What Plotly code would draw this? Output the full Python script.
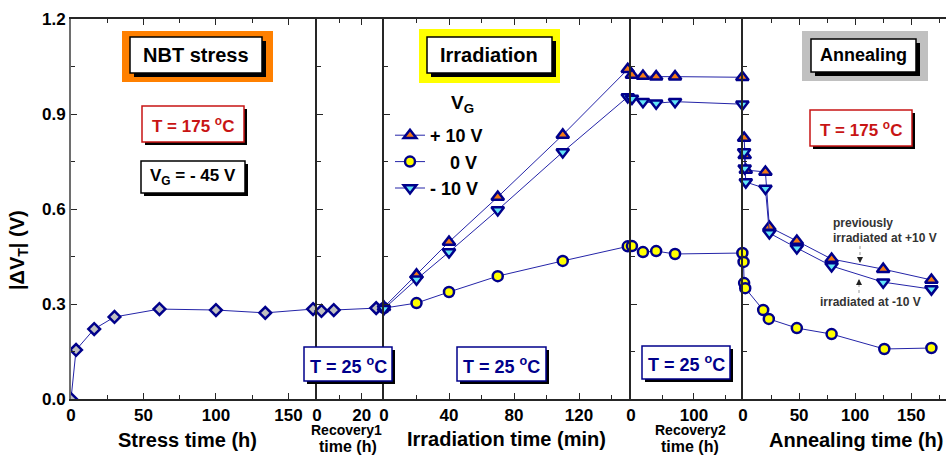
import plotly.graph_objects as go

# ---------------- data ----------------
stress_t = [0, 3.5, 16, 30, 61, 100, 134, 167]
stress_dvt = [0.0, 0.155, 0.221, 0.259, 0.284, 0.281, 0.272, 0.284]

rec1_t = [2, 7.5, 26.5]
rec1_dvt = [0.278, 0.281, 0.287]

irr_t = [0, 20, 40, 70, 110, 150]
irr_p10 = [0.290, 0.392, 0.496, 0.638, 0.834, 1.041]
irr_0 = [0.287, 0.303, 0.338, 0.388, 0.436, 0.482]
irr_m10 = [0.285, 0.378, 0.464, 0.597, 0.780, 0.954]

rec2_t = [1.5, 19, 40, 70, 177]
rec2_p10 = [1.023, 1.020, 1.018, 1.018, 1.016]
rec2_0 = [0.483, 0.464, 0.467, 0.458, 0.461]
rec2_m10 = [0.949, 0.939, 0.934, 0.939, 0.931]

ann_t_tri = [1, 1.5, 2.5, 20, 23.5, 48, 79, 125, 168]
ann_p10 = [0.824, 0.770, 0.723, 0.717, 0.543, 0.499, 0.442, 0.410, 0.376]
ann_m10 = [0.780, 0.729, 0.685, 0.665, 0.524, 0.477, 0.420, 0.369, 0.347]
ann_t_0 = [0.5, 1, 2, 18, 23, 48, 79, 126, 168]
ann_0 = [0.433, 0.366, 0.350, 0.281, 0.253, 0.224, 0.205, 0.158, 0.161]

y_ticks = [0.0, 0.3, 0.6, 0.9, 1.2]
y_minor = [0.15, 0.45, 0.75, 1.05]
stress_ticks = [0, 50, 100, 150]
rec1_ticks = [0, 20]
irr_ticks = [0, 40, 80, 120]
rec2_ticks = [0, 100]
ann_ticks = [0, 50, 100, 150]

legend_names = ["+ 10 V", "\u00a0\u00a0\u00a0\u00a00 V", "- 10 V"]

# ---------------- styling ----------------
FONT = "Liberation Sans, Arial, Helvetica, sans-serif"
NAVY = "#00008b"
LINE = "#2424a8"
DARK_RED = "#c81414"
AX = "#262626"
W, H = 948, 457
L, R, T, B = 71, 946, 19, 399


def px(x):
    return (x - L) / (R - L)


def py(y):
    return (B - y) / (B - T)


fig = go.Figure()

mk_diamond = dict(symbol="diamond", size=9, color="#c0c0c0", line=dict(color=NAVY, width=2.5))
mk_up = dict(symbol="triangle-up", size=11, color="#f47a14", line=dict(color=NAVY, width=2.5))
mk_circ = dict(symbol="circle", size=10, color="#ffff00", line=dict(color=NAVY, width=2.5))
mk_down = dict(symbol="triangle-down", size=11, color="#62e6f6", line=dict(color=NAVY, width=2.5))


def add(xs, ys, k, marker, name, group, show=False, clip=False):
    ax = "" if k == 1 else str(k)
    fig.add_trace(go.Scatter(
        x=xs, y=ys, mode="lines+markers", name=name, legendgroup=group,
        showlegend=show, marker=marker, line=dict(color=LINE, width=1),
        xaxis="x" + ax, yaxis="y" + ax, cliponaxis=clip))


# stress + recovery 1 (gray diamonds)
add(stress_t, stress_dvt, 1, mk_diamond, "stress", "s", clip=True)
add(rec1_t, rec1_dvt, 2, mk_diamond, "rec1", "s")
# irradiation
add(irr_t, irr_p10, 3, mk_up, legend_names[0], "p", show=True)
add(irr_t, irr_0, 3, mk_circ, legend_names[1], "z", show=True)
add(irr_t, irr_m10, 3, mk_down, legend_names[2], "m", show=True)
# recovery 2
add(rec2_t, rec2_p10, 4, mk_up, legend_names[0], "p")
add(rec2_t, rec2_0, 4, mk_circ, legend_names[1], "z")
add(rec2_t, rec2_m10, 4, mk_down, legend_names[2], "m")
# annealing
add(ann_t_tri, ann_p10, 5, mk_up, legend_names[0], "p")
add(ann_t_0, ann_0, 5, mk_circ, legend_names[1], "z")
add(ann_t_tri, ann_m10, 5, mk_down, legend_names[2], "m")

bounds = [71, 317, 384, 631, 743, 946]
segs = [
    dict(rng=[0, 169.7], tv=stress_ticks, minor=[25, 75, 125]),
    dict(rng=[0, 30], tv=rec1_ticks, minor=[10]),
    dict(rng=[0, 152], tv=irr_ticks, minor=[20, 60, 100, 140]),
    dict(rng=[0, 178], tv=rec2_ticks, minor=[50, 150]),
    dict(rng=[0, 181], tv=ann_ticks, minor=[25, 75, 125, 175]),
]

tickfont = dict(family=FONT, size=17, color="black", weight="bold")
layout = {}
for i, s in enumerate(segs, start=1):
    sfx = "" if i == 1 else str(i)
    layout["xaxis" + sfx] = dict(
        domain=[px(bounds[i - 1]), px(bounds[i])], range=s["rng"], anchor="y" + sfx,
        showline=True, linecolor=AX, linewidth=1.5, mirror="ticks",
        ticks="inside", ticklen=6, tickwidth=1.2, tickcolor=AX,
        tickmode="array", tickvals=s["tv"], ticktext=[str(v) for v in s["tv"]],
        minor=dict(tickmode="array", tickvals=s["minor"], ticks="inside", ticklen=4,
                   tickcolor=AX, tickwidth=1),
        showgrid=False, zeroline=False, tickfont=tickfont, fixedrange=True)
    ya = dict(
        domain=[0, 1], range=[0, 1.2], anchor="x" + sfx,
        showline=True, linecolor=("#6e6e6e" if i == 1 else AX), linewidth=2,
        mirror=False,
        ticks="inside", ticklen=6, tickwidth=1.2, tickcolor=AX,
        tickmode="array", tickvals=y_ticks, ticktext=[f"{v:.1f}" for v in y_ticks],
        minor=dict(tickmode="array", tickvals=y_minor, ticks="inside",
                   ticklen=4, tickcolor=AX, tickwidth=1),
        showticklabels=(i == 1), showgrid=False, zeroline=False, tickfont=tickfont,
        fixedrange=True)
    if i > 1:
        ya["matches"] = "y"
    layout["yaxis" + sfx] = ya

# tick-only axes so each boundary also has ticks on its left side
for j, b in enumerate(bounds[1:5], start=6):
    layout["yaxis%d" % j] = dict(
        overlaying="y", anchor="free", position=px(b), side="left", range=[0, 1.2],
        showline=False, ticks="outside", ticklen=6, tickwidth=1.2, tickcolor=AX,
        tickmode="array", tickvals=y_ticks, showticklabels=False,
        minor=dict(tickmode="array", tickvals=y_minor, ticks="outside",
                   ticklen=4, tickcolor=AX, tickwidth=1),
        showgrid=False, zeroline=False, fixedrange=True)

fig.update_layout(**layout)

# ---------------- boxes (shapes) ----------------
shapes = []


def rect(x0, y0, x1, y1, fill, line_color=None, lw=0):
    shapes.append(dict(type="rect", xref="paper", yref="paper",
                       x0=px(x0), x1=px(x1), y0=py(y1), y1=py(y0),
                       fillcolor=fill, layer="above",
                       line=dict(color=line_color or fill, width=lw)))


def shadow_box(x0, y0, x1, y1, border, off=4):
    rect(x0 + off, y0 + off, x1 + off, y1 + off, "black")
    rect(x0, y0, x1, y1, "white", border, 1.5)


# title boxes with coloured backgrounds
rect(122, 31, 273, 82, "#ff8000")
shadow_box(130, 37, 262, 73, "black")
rect(419, 29, 560, 83, "#ffff00")
shadow_box(427, 37, 552, 73, "black")
rect(802, 31, 928, 81, "#c0c0c0")
shadow_box(811, 39, 916, 72, "black")
# condition boxes
shadow_box(142, 106, 244, 142, DARK_RED, off=3)
shadow_box(141, 161, 245, 193, "black", off=3)
shadow_box(810, 110, 912, 146, DARK_RED, off=3)
shadow_box(304, 347, 392, 381, NAVY, off=3)
shadow_box(457, 347, 546, 381, NAVY, off=3)
shadow_box(642, 346, 730, 379, NAVY, off=3)
# dotted pointer lines
shapes.append(dict(type="line", xref="paper", yref="paper", x0=px(860), x1=px(860),
                   y0=py(246), y1=py(258), line=dict(color="#999999", width=1, dash="dot")))
shapes.append(dict(type="line", xref="paper", yref="paper", x0=px(859), x1=px(859),
                   y0=py(284), y1=py(296), line=dict(color="#999999", width=1, dash="dot")))

fig.update_layout(shapes=shapes)

# ---------------- text ----------------
ann = []


def text(x, y, s, size=18, color="black", xanchor="center", angle=0):
    ann.append(dict(xref="paper", yref="paper", x=px(x), y=py(y), text=s,
                    showarrow=False, xanchor=xanchor, yanchor="middle", textangle=angle,
                    font=dict(family=FONT, size=size, color=color, weight="bold")))


text(196, 55, "NBT stress", 20)
text(489, 55, "Irradiation", 20)
text(863, 55, "Annealing", 18)
text(193, 125, "T = 175 <sup>o</sup>C", 17, DARK_RED)
text(193, 177, "V<sub>G</sub> = - 45 V", 17)
text(861, 129, "T = 175 <sup>o</sup>C", 17, DARK_RED)
text(348, 365, "T = 25 <sup>o</sup>C", 18, NAVY)
text(501, 365, "T = 25 <sup>o</sup>C", 18, NAVY)
text(686, 363, "T = 25 <sup>o</sup>C", 18, NAVY)
text(462, 104, "V<sub>G</sub>", 19)

text(18, 250, "|ΔV<sub>T</sub>| (V)", 20, angle=-90)
text(187, 440, "Stress time (h)", 20)
text(506, 439, "Irradiation time (min)", 20)
text(856, 440, "Annealing time (h)", 20)
text(346, 430, "Recovery1", 14)
text(348, 446, "time (h)", 16)
text(690, 430, "Recovery2", 14)
text(690, 446, "time (h)", 16)

text(831, 223, "previously", 12, "#333333", xanchor="left")
text(831, 238, "irradiated at +10 V", 12, "#333333", xanchor="left")
text(818, 302, "irradiated at -10 V", 12, "#333333", xanchor="left")

# arrow heads for the pointers
ann.append(dict(xref="paper", yref="paper", x=px(860), y=py(263), ax=0, ay=-6,
                text="", showarrow=True, arrowhead=2, arrowsize=1, arrowwidth=1.2,
                arrowcolor="#222222"))
ann.append(dict(xref="paper", yref="paper", x=px(859), y=py(279), ax=0, ay=6,
                text="", showarrow=True, arrowhead=2, arrowsize=1, arrowwidth=1.2,
                arrowcolor="#222222"))

fig.update_layout(
    annotations=ann,
    width=W, height=H,
    margin=dict(l=L, r=W - R, t=T, b=H - B, pad=0),
    plot_bgcolor="white", paper_bgcolor="white",
    font=dict(family=FONT, size=18, color="black", weight="bold"),
    showlegend=True,
    legend=dict(x=px(390), y=py(117), xanchor="left", yanchor="top",
                bgcolor="rgba(0,0,0,0)", borderwidth=0, tracegroupgap=0,
                font=dict(family=FONT, size=18, color="black", weight="bold"),
                itemsizing="trace"),
)

fig.write_html(
    "out.html",
    config={"displayModeBar": False},
    post_script="document.body.style.margin='0';document.body.style.padding='0';"
                "document.body.style.overflow='hidden';",
)
